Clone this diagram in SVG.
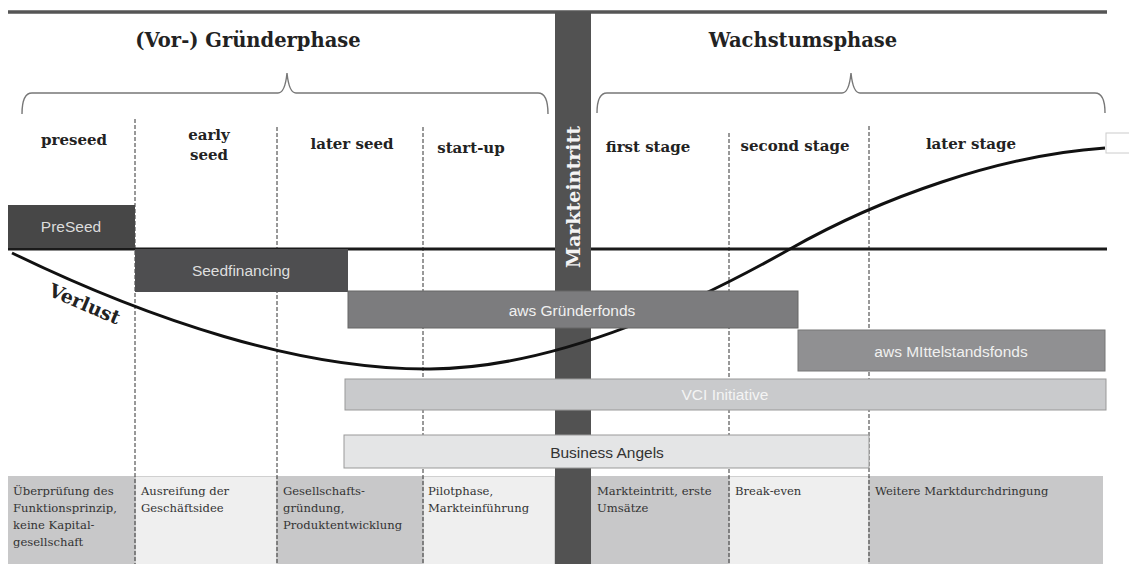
<svg xmlns="http://www.w3.org/2000/svg" width="1129" height="564" viewBox="0 0 1129 564">
<style>
.hd{font-family:"DejaVu Serif","Liberation Serif",serif;font-weight:bold;fill:#222;}
.ttl{font-size:19.5px;}
.stg{font-size:15px;}
.box{font-family:"Liberation Sans",Arial,sans-serif;font-size:15.5px;text-anchor:middle;}
.desc{font-family:"DejaVu Serif","Liberation Serif",serif;font-size:11.6px;fill:#333;}
.dash{stroke:#333;stroke-width:1;stroke-dasharray:4,2;fill:none;}
.brace{stroke:#777;stroke-width:1.4;fill:none;}
.dk{fill:#c8c8c9;}
.lt{fill:#efefef;stroke:#d0d0d0;stroke-width:1;}
</style>
<rect width="1129" height="564" fill="#fff"/>
<g id="bottom-descriptions">
<rect class="dk" x="8" y="476" width="127" height="88"/>
<rect class="lt" x="135.5" y="476.5" width="141" height="88"/>
<rect class="dk" x="277" y="476" width="146" height="88"/>
<rect class="lt" x="423.5" y="476.5" width="131" height="88"/>
<rect class="dk" x="591" y="476" width="138" height="88"/>
<rect class="lt" x="729.5" y="476.5" width="139" height="88"/>
<rect class="dk" x="869" y="476" width="234" height="88"/>
<text class="desc" x="13" y="495">Überprüfung des<tspan x="13" dy="17">Funktionsprinzip,</tspan><tspan x="13" dy="17">keine Kapital-</tspan><tspan x="13" dy="17">gesellschaft</tspan></text>
<text class="desc" x="141" y="495">Ausreifung der<tspan x="141" dy="17">Geschäftsidee</tspan></text>
<text class="desc" x="283" y="495">Gesellschafts-<tspan x="283" dy="17">gründung,</tspan><tspan x="283" dy="17">Produktentwicklung</tspan></text>
<text class="desc" x="428" y="495">Pilotphase,<tspan x="428" dy="17">Markteinführung</tspan></text>
<text class="desc" x="597" y="495">Markteintritt, erste<tspan x="597" dy="17">Umsätze</tspan></text>
<text class="desc" x="735" y="495">Break-even</text>
<text class="desc" x="875" y="495">Weitere Marktdurchdringung</text>
</g>
<g id="grid">
<line x1="8" y1="12" x2="1107" y2="12" stroke="#555" stroke-width="3.5"/>
<line class="dash" x1="135" y1="119" x2="135" y2="564"/>
<line class="dash" x1="277" y1="127" x2="277" y2="564"/>
<line class="dash" x1="423" y1="127" x2="423" y2="564"/>
<line class="dash" x1="729" y1="133" x2="729" y2="564"/>
<line class="dash" x1="869" y1="126" x2="869" y2="564"/>
<line x1="8" y1="249" x2="1107" y2="249" stroke="#1a1a1a" stroke-width="3"/>
</g>
<g id="headers">
<text class="hd ttl" x="248" y="47" text-anchor="middle">(Vor-) Gründerphase</text>
<text class="hd ttl" x="803" y="47" text-anchor="middle">Wachstumsphase</text>
<path class="brace" d="M22,114 Q22,93 32,93 L278,93 Q285,93 287,73 Q289,93 296,93 L538,93 Q548,93 548,114"/>
<path class="brace" d="M597,113 Q597,93 607,93 L842,93 Q849,93 851,73 Q853,93 860,93 L1095,93 Q1105,93 1105,113"/>
<text class="hd stg" x="74" y="145" text-anchor="middle">preseed</text>
<text class="hd stg" x="209" y="140" text-anchor="middle">early<tspan x="209" dy="20">seed</tspan></text>
<text class="hd stg" x="352" y="149" text-anchor="middle">later seed</text>
<text class="hd stg" x="471" y="153" text-anchor="middle">start-up</text>
<text class="hd stg" x="648" y="152" text-anchor="middle">first stage</text>
<text class="hd stg" x="795" y="151" text-anchor="middle">second stage</text>
<text class="hd stg" x="971" y="149" text-anchor="middle">later stage</text>
<rect x="1106" y="133" width="26" height="20" fill="#fff" stroke="#ccc" stroke-width="1"/>
</g>
<g id="market-entry">
<rect x="555" y="12" width="36" height="552" fill="#525252"/>
<text class="hd" x="573" y="197" transform="rotate(-90 573 197)" text-anchor="middle" dominant-baseline="central" font-size="19" style="fill:#f4f4f4">Markteintritt</text>
</g>
<g id="instruments">
<g id="preseed"><rect x="8" y="205" width="127" height="43" fill="#474747"/><text class="box" x="71" y="232" fill="#dcdcdc">PreSeed</text></g>
<g id="seedfinancing"><rect x="135" y="249" width="213" height="43" fill="#4e4e50"/><text class="box" x="241" y="276" fill="#dedede">Seedfinancing</text></g>
<g id="business-angels"><rect x="344" y="435" width="525" height="33" fill="#e4e5e6" stroke="#999"/><text class="box" x="607" y="458" fill="#333">Business Angels</text></g>
<g id="vci"><rect x="345" y="379" width="761" height="31" fill="#c9cacc" stroke="#999"/><text class="box" x="725" y="400" fill="#f4f4f4">VCI Initiative</text></g>
</g>
<g id="connectors">
<path d="M12,253 C150,320 300,370 430,369 C560,368 700,300 790,249 C880,198 1000,155 1105,148" fill="none" stroke="#111" stroke-width="3"/>
</g>
<g id="funds">
<g id="aws-gruenderfonds"><rect x="348" y="291" width="450" height="37" fill="#7c7c7e" stroke="#666"/><text class="box" x="572" y="316" fill="#f0f0f0">aws Gründerfonds</text></g>
<g id="aws-mittelstandsfonds"><rect x="798" y="330" width="307" height="41" fill="#909092" stroke="#777"/><text class="box" x="951" y="357" fill="#f0f0f0">aws MIttelstandsfonds</text></g>
</g>
<text class="hd" x="82" y="310" transform="rotate(23 82 310)" text-anchor="middle" font-size="19" style="fill:#222">Verlust</text>
</svg>
